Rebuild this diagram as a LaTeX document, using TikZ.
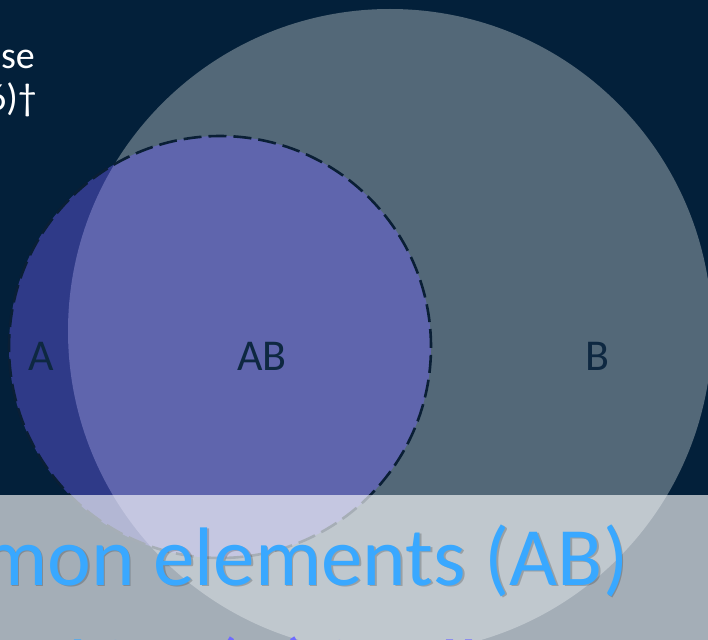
\documentclass[tikz,border=0pt]{standalone}
\usepackage{fontspec}
\setmainfont{Carlito}
\definecolor{bgc}{HTML}{03203A}
\definecolor{bcol}{HTML}{536878}
\definecolor{acol}{HTML}{7161FD}
\definecolor{dashc}{HTML}{0A1F35}
\definecolor{labc}{HTML}{0E2841}
\definecolor{bluetext}{HTML}{39A8FF}
\definecolor{purptext}{HTML}{6E6BFF}
\tikzset{
  setlabel/.style={text=labc,font=\fontsize{44}{48}\selectfont,inner sep=0pt},
  bigline/.style={anchor=base west,inner sep=0pt,font=\fontsize{83}{90}\selectfont},
  toptext/.style={anchor=base east,inner sep=0pt,text=white,font=\fontsize{38}{42}\selectfont},
  aoutline/.style={draw=dashc,line width=2.6pt,dash pattern=on 18pt off 7pt}
}
\begin{document}
\begin{tikzpicture}[x=1pt,y=-1pt]
\useasboundingbox (0,0) rectangle (708,639);
\clip (0,0) rectangle (708,639);
\fill[bgc] (-5,-5) rectangle (713,650);
% partial top-left text
\node[toptext] (t1) at (35,69) {se};
\node[toptext] (t2) at (37,111) {6)†};
% circle B
\fill[bcol] (390,331) circle[radius=322pt];
% circle A (semi-transparent)
\fill[acol,fill opacity=0.4] (220,347) circle[radius=211pt];
\draw[aoutline] (220,347) circle[radius=211pt];
% labels
\node[setlabel] (la) at (41,356) {A};
\node[setlabel] (lab) at (262,356) {AB};
\node[setlabel] (lb) at (597,356) {B};
% translucent band
\fill[white,opacity=0.64] (-5,495) rectangle (713,660);
% band text with shadow
\node[bigline,text=black,opacity=0.2] (l1s) at (-17.5,586.5) {mon elements (AB)};
\node[bigline,text=bluetext] (l1) at (-19,585) {mon elements (AB)};
\node[bigline,text=bluetext] (l2a) at (-75,697) {Total in};
\node[bigline,text=purptext] (l2b) at (213,697) {(A) is all};
\end{tikzpicture}
\end{document}
